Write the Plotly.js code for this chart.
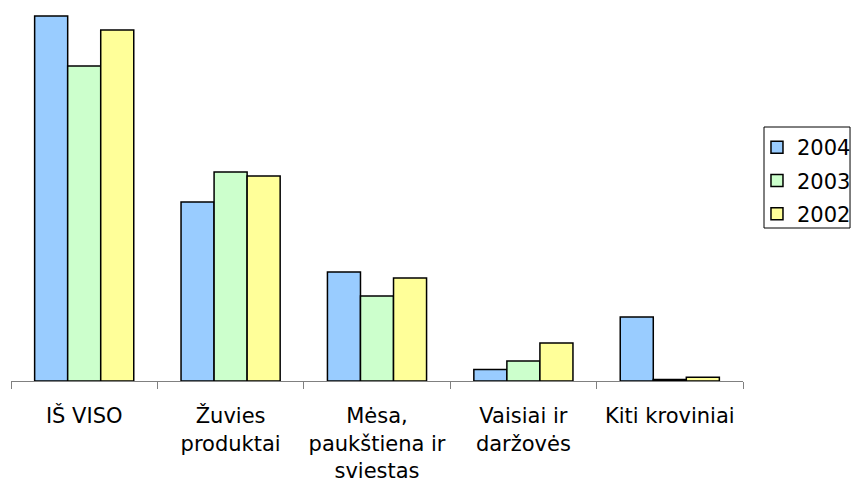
<!DOCTYPE html>
<html>
<head>
<meta charset="utf-8">
<script src="https://cdn.plot.ly/plotly-3.0.1.min.js"></script>
<style>html,body{margin:0;padding:0;background:#fff;}#chart{width:855px;height:486px;}</style>
</head>
<body>
<div id="chart"></div>
<script>
const categories = ["IŠ VISO", "Žuvies<br>produktai", "Mėsa,<br>paukštiena ir<br>sviestas", "Vaisiai ir<br>daržovės", "Kiti kroviniai"];
const series2004 = [365, 179, 109, 11.5, 64];
const series2003 = [315, 209, 85, 20, 1.5];
const series2002 = [351, 205, 103, 38, 3.8];
const seriesNames = ["2004", "2003", "2002"];
const colors = ["#99CCFF", "#CCFFCC", "#FFFF99"];

const values = [series2004, series2003, series2002];
const traces = values.map((v, i) => ({
  type: "bar",
  x: categories,
  y: v,
  name: seriesNames[i],
  legendgroup: "g" + i,
  marker: {color: colors[i], line: {color: "#000000", width: 1.5}},
  hoverinfo: "none"
}));

const layout = {
  width: 855,
  height: 486,
  margin: {l: 11, r: 112, t: 5, b: 105, autoexpand: false},
  paper_bgcolor: "#ffffff",
  plot_bgcolor: "#ffffff",
  barmode: "group",
  bargap: 0.323,
  bargroupgap: 0,
  font: {family: "'DejaVu Sans', sans-serif", size: 21, color: "#000000"},
  xaxis: {
    type: "category",
    range: [-0.5, 4.5],
    showline: true,
    linecolor: "#808080",
    linewidth: 1,
    ticks: "outside",
    tickson: "boundaries",
    ticklen: 7,
    tickcolor: "#808080",
    tickwidth: 1,
    showgrid: false,
    zeroline: false,
    ticklabelstandoff: 16,
    tickfont: {size: 21}
  },
  yaxis: {
    range: [0, 376],
    visible: false,
    showgrid: false,
    zeroline: false
  },
  legend: {
    x: 1.0191,
    xanchor: "left",
    y: 0.6755,
    yanchor: "top",
    borderwidth: 0,
    bgcolor: "rgba(0,0,0,0)",
    font: {size: 21},
    tracegroupgap: 3,
    itemwidth: 30
  },
  shapes: [{
    type: "rect", xref: "paper", yref: "paper",
    x0: 1.0287, x1: 1.1462, y0: 0.4069, y1: 0.6755,
    line: {color: "#000000", width: 1},
    fillcolor: "rgba(0,0,0,0)",
    layer: "below"
  }],
  showlegend: true
};

Plotly.newPlot("chart", traces, layout, {displayModeBar: false, staticPlot: true});
</script>
</body>
</html>
